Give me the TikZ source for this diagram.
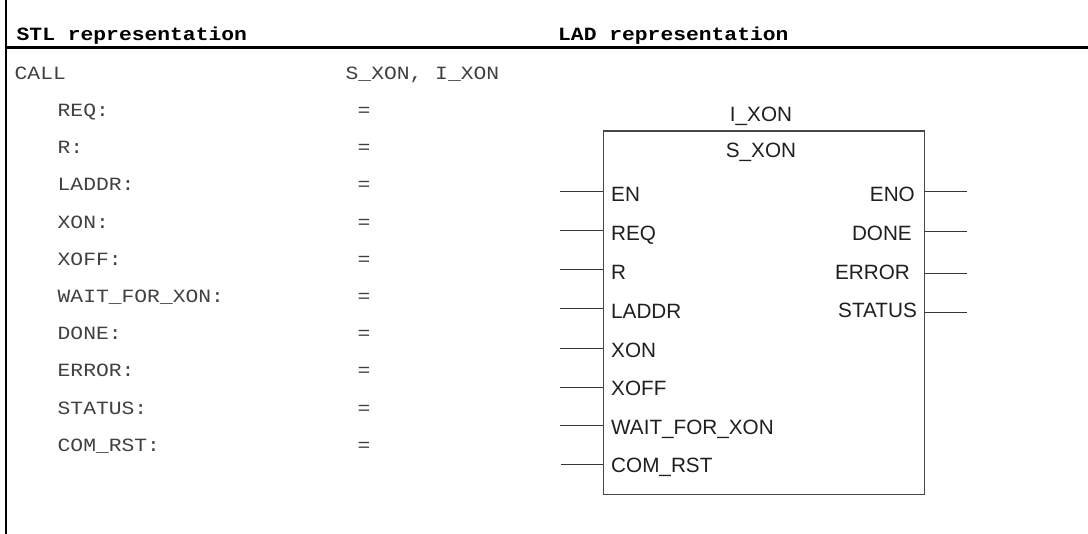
\documentclass[tikz,border=0pt]{standalone}
\usepackage{fontspec}
\setmainfont{Liberation Sans}
\newfontfamily\stlfont{Liberation Mono}[FakeStretch=1.14]
\begin{document}
\begin{tikzpicture}[x=1pt,y=-1pt,
  stl/.style={anchor=base west, inner sep=0pt, font=\stlfont\fontsize{18.7}{18.7}\selectfont, text=black!75},
  hdr/.style={anchor=base west, inner sep=0pt, font=\stlfont\bfseries\fontsize{18.7}{18.7}\selectfont, text=black},
  eqs/.style={anchor=base, inner sep=0pt, font=\stlfont\fontsize{18.7}{18.7}\selectfont, text=black!75},
  lad/.style={inner sep=0pt, font=\fontsize{20.7}{20.7}\selectfont, text=black!88},
  pin/.style={draw=black!78, line width=1pt},
  rulel/.style={draw=black, line width=2.5pt},
  fbox/.style={draw=black!72, line width=1.3pt, minimum width=321pt, minimum height=363.3pt, inner sep=0pt, outer sep=0pt}]
\useasboundingbox (0,0) rectangle (1088,534);
% frame rules
\coordinate (vtop) at (6,0);
\coordinate (vbot) at (6,534);
\coordinate (hl) at (6,47.5);
\coordinate (hr) at (1088,47.5);
\draw[rulel] (vtop) -- (vbot);
\draw[rulel] (hl) -- (hr);
% headers
\node[hdr] (stlh) at (16.5,40.7) {STL representation};
\node[hdr] (ladh) at (558,40.7) {LAD representation};
% STL text
\node[stl] (call) at (14.5,79.3) {CALL};
\node[stl] (calln) at (345.5,79.3) {S\_XON, I\_XON};
\foreach \i/\t in {1/REQ,2/R,3/LADDR,4/XON,5/XOFF,6/WAIT\_FOR\_XON,7/DONE,8/ERROR,9/STATUS,10/COM\_RST}{
  \node[stl] (s\i) at (57.5,79.3+37.2*\i) {\t:};
  \node[eqs] (e\i) at (364,79.3+37.2*\i) {=};
}
% LAD box
\node[fbox] (fb) at (763.8,312.65) {};
\node[lad, anchor=base] (inst) at (761,121.7) {I\_XON};
\node[lad, anchor=base] (fbname) at (761,158) {S\_XON};
\foreach \i/\t/\ly/\ty/\lx in {1/EN/191.7/201.5/560,2/REQ/231/240.5/560,3/R/270/280/560,4/LADDR/309/318.5/560,5/XON/348.3/357.5/560,6/XOFF/387.3/396/560,7/WAIT\_FOR\_XON/426/434.5/560,8/COM\_RST/464.3/473/561}{
  \node[lad, anchor=base west] (li\i) at (611,\ty) {\t};
  \coordinate (lp\i) at (\lx,\ly);
  \draw[pin] (lp\i) -- (lp\i -| fb.west);
}
\foreach \i/\t/\ly/\ty/\tx in {1/ENO/191.7/201.5/915,2/DONE/231.7/240.5/912,3/ERROR/273.7/280/910,4/STATUS/312.7/317.5/917}{
  \node[lad, anchor=base east] (ro\i) at (\tx,\ty) {\t};
  \coordinate (rp\i) at (966.7,\ly);
  \draw[pin] (rp\i -| fb.east) -- (rp\i);
}
\end{tikzpicture}
\end{document}
